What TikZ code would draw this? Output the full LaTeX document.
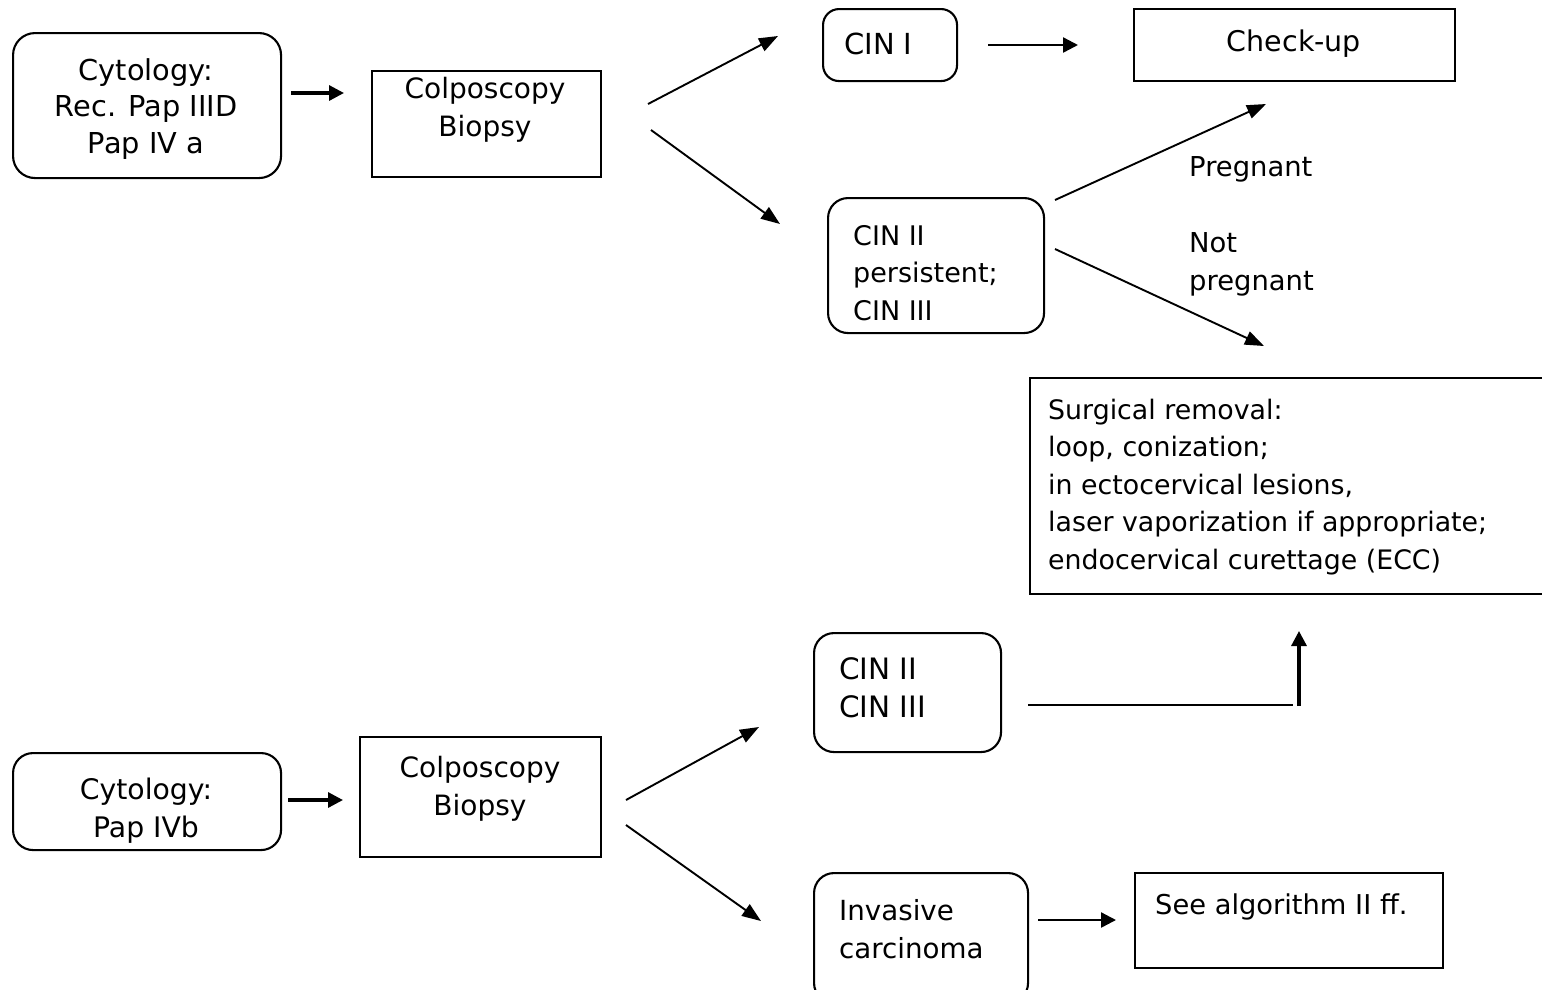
\documentclass[tikz,border=0pt]{standalone}
\usepackage{fontspec}
\setmainfont{DejaVu Sans}
\usetikzlibrary{arrows.meta}
\newcommand{\fsz}[2]{\fontsize{#1}{#2}\selectfont}
\begin{document}
\begin{tikzpicture}[x=1pt,y=-1pt,
  rbox/.style={draw,line width=2.1pt,rounded corners=16pt,anchor=north west,inner sep=0pt},
  sbox/.style={draw,line width=2.1pt,anchor=north west,inner sep=0pt},
  txt/.style={inner sep=0pt},
  arr/.style={line width=1.9pt,-{Triangle[length=19pt,width=14pt]}},
  harr/.style={line width=3.2pt,-{Triangle[length=15pt,width=15pt]}}]
\useasboundingbox (0,0) rectangle (1542,989);
% boxes
\node[rbox,rounded corners=22pt,minimum width=268pt,minimum height=145pt] (cyt1) at (12,32) {};
\node[sbox,minimum width=229pt,minimum height=106pt] (col1) at (371,70) {};
\node[rbox,minimum width=134pt,minimum height=72pt] (cin1) at (822,8) {};
\node[sbox,minimum width=321pt,minimum height=72pt] (chk) at (1133,8) {};
\node[rbox,rounded corners=20pt,minimum width=216pt,minimum height=135pt] (cin23) at (827,197) {};
\node[sbox,minimum width=514pt,minimum height=216pt] (surg) at (1029,377) {};
\node[rbox,rounded corners=20pt,minimum width=187pt,minimum height=119pt] (cinb) at (813,632) {};
\node[rbox,rounded corners=20pt,minimum width=268pt,minimum height=97pt] (cyt2) at (12,752) {};
\node[sbox,minimum width=241pt,minimum height=120pt] (col2) at (359,736) {};
\node[rbox,rounded corners=20pt,minimum width=214pt,minimum height=130pt] (inv) at (813,872) {};
\node[sbox,minimum width=308pt,minimum height=95pt] (see) at (1134,872) {};
% texts
\node[txt,align=center,font=\fsz{28.8}{36.5}] (tcyt1) at (146,109) {Cytology:\\Rec. Pap IIID\\Pap IV a};
\node[txt,align=center,font=\fsz{28}{38}] (tcol1) at (485,110) {Colposcopy\\Biopsy};
\node[txt,anchor=west,font=\fsz{29}{37}] (tcin1) at (844,44) {CIN I};
\node[txt,font=\fsz{28.5}{37}] (tchk) at (1294,44) {Check-up};
\node[txt,align=left,anchor=west,font=\fsz{27}{37.5}] (tcin23) at (853,273) {CIN II\\persistent;\\CIN III};
\node[txt,align=left,anchor=west,font=\fsz{26.8}{37.5}] (tsurg) at (1048,487) {Surgical removal:\\loop, conization;\\in ectocervical lesions,\\laser vaporization if appropriate;\\endocervical curettage (ECC)};
\node[txt,align=left,anchor=west,font=\fsz{29.5}{38}] (tcinb) at (839,688) {CIN II\\CIN III};
\node[txt,align=center,font=\fsz{28.3}{38}] (tcyt2) at (146,811) {Cytology:\\Pap IVb};
\node[txt,align=center,font=\fsz{28}{38}] (tcol2) at (480,789) {Colposcopy\\Biopsy};
\node[txt,align=left,anchor=west,font=\fsz{27.7}{38}] (tinv) at (839,929) {Invasive\\carcinoma};
\node[txt,anchor=west,font=\fsz{27.3}{37}] (tsee) at (1155,907) {See algorithm II ff.};
\node[txt,anchor=west,font=\fsz{27.4}{37}] (lpreg) at (1189,169) {Pregnant};
\node[txt,align=left,anchor=west,font=\fsz{27.4}{38}] (lnot) at (1189,264) {Not\\pregnant};
% connector ends
\coordinate (a1s) at (291,93);   \coordinate (a1e) at (344,93);
\coordinate (a2s) at (648,104);  \coordinate (a2e) at (778,36);
\coordinate (a3s) at (651,130);  \coordinate (a3e) at (780,224);
\coordinate (a4s) at (988,45);   \coordinate (a4e) at (1078,45);
\coordinate (a5s) at (1055,200); \coordinate (a5e) at (1266,104);
\coordinate (a6s) at (1055,249); \coordinate (a6e) at (1264,346);
\coordinate (a7s) at (1028,705); \coordinate (a7m) at (1293,705);
\coordinate (a7b) at (1299,706); \coordinate (a7e) at (1299,631);
\coordinate (b1s) at (288,800);  \coordinate (b1e) at (343,800);
\coordinate (b2s) at (626,800);  \coordinate (b2e) at (759,727);
\coordinate (b3s) at (626,825);  \coordinate (b3e) at (761,921);
\coordinate (b4s) at (1038,920); \coordinate (b4e) at (1116,920);
% connectors
\draw[harr] (a1s) -- (a1e);
\draw[arr] (a2s) -- (a2e);
\draw[arr] (a3s) -- (a3e);
\draw[harr,line width=2.4pt] (a4s) -- (a4e);
\draw[arr] (a5s) -- (a5e);
\draw[arr] (a6s) -- (a6e);
\draw[line width=2.4pt] (a7s) -- (a7m);
\draw[harr] (a7b) -- (a7e);
\draw[harr] (b1s) -- (b1e);
\draw[arr] (b2s) -- (b2e);
\draw[arr] (b3s) -- (b3e);
\draw[harr,line width=2.4pt] (b4s) -- (b4e);
\end{tikzpicture}
\end{document}
